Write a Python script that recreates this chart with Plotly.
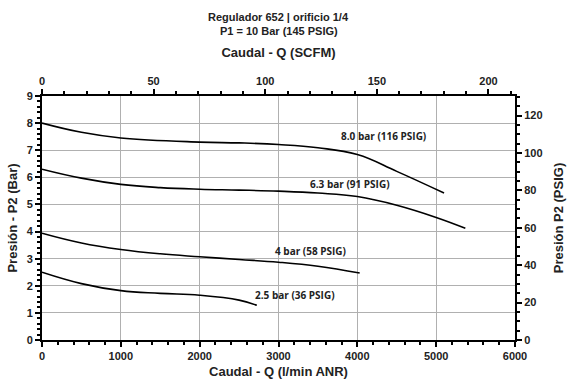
import plotly.graph_objects as go

q8 = [0, 500, 1000, 2000, 2500, 3000, 3500, 4000, 4500, 5100]
p8 = [8.0, 7.66, 7.45, 7.30, 7.27, 7.21, 7.09, 6.84, 6.22, 5.42]
q63 = [0, 500, 1000, 1500, 2000, 2500, 3000, 3500, 4000, 4500, 5000, 5370]
p63 = [6.3, 5.97, 5.74, 5.62, 5.56, 5.53, 5.49, 5.42, 5.29, 4.97, 4.52, 4.12]
q4 = [0, 500, 1000, 1500, 2000, 2500, 3000, 3500, 4030]
p4 = [3.94, 3.58, 3.34, 3.18, 3.07, 2.97, 2.87, 2.72, 2.47]
q25 = [0, 500, 1000, 1500, 2000, 2500, 2725]
p25 = [2.5, 2.08, 1.82, 1.72, 1.65, 1.47, 1.28]

labels = ["8.0 bar (116 PSIG)", "6.3 bar (91 PSIG)", "4 bar (58 PSIG)", "2.5 bar (36 PSIG)"]
label_x = [4330, 3913, 3400, 3210]
label_y = [7.53, 5.75, 3.28, 1.66]

BAR_TO_PSI = 14.5
LPM_PER_SCFM = 28.3168
XMAX = 6000
YMAX = 9

FONT = "Liberation Sans, Arial"

fig = go.Figure()
for q, p in [(q8, p8), (q63, p63), (q4, p4), (q25, p25)]:
    fig.add_trace(go.Scatter(x=q, y=p, mode="lines",
                             line=dict(color="black", width=1.6, shape="spline", smoothing=1.2),
                             showlegend=False, hoverinfo="skip"))

# invisible traces so the secondary (top / right) axes are drawn
fig.add_trace(go.Scatter(x=[0], y=[0], xaxis="x2", yaxis="y", mode="markers",
                         marker=dict(opacity=0), showlegend=False, hoverinfo="skip"))
fig.add_trace(go.Scatter(x=[0], y=[0], xaxis="x", yaxis="y2", mode="markers",
                         marker=dict(opacity=0), showlegend=False, hoverinfo="skip"))

for t, x, y in zip(labels, label_x, label_y):
    fig.add_annotation(x=x, y=y, text="<b>" + t + "</b>", showarrow=False, xref="x", yref="y",
                       font=dict(family="Open Sans", size=10, color="#222"))

def py(pix):
    return (340 - pix) / 244.0

fig.add_annotation(x=0.5, y=py(17), xref="paper", yref="paper", text="<b>Regulador 652 | orificio 1/4</b>",
                   showarrow=False, yanchor="middle", font=dict(family=FONT, size=11, color="#222"))
fig.add_annotation(x=0.5, y=py(31), xref="paper", yref="paper", text="<b>P1 = 10 Bar (145 PSIG)</b>",
                   showarrow=False, yanchor="middle", font=dict(family=FONT, size=11, color="#222"))

tickfont = dict(family=FONT, size=11, color="#222", weight="bold")
titlefont = dict(family=FONT, size=13, color="#222")
GRID = "#b0b0b0"

fig.update_layout(
    width=569, height=387,
    margin=dict(l=42, r=54, t=96, b=47, autoexpand=False),
    paper_bgcolor="white", plot_bgcolor="rgba(0,0,0,0)",
    xaxis=dict(range=[0, XMAX], dtick=1000, showgrid=True, gridcolor=GRID, gridwidth=1, automargin=False,
               showline=True, linecolor="black", linewidth=2, ticks="outside", ticklen=5, tickwidth=1.5,
               tickcolor="black", minor=dict(dtick=200, ticks="outside", ticklen=3, tickcolor="black", showgrid=False),
               tickfont=tickfont, title=dict(text="<b>Caudal - Q (l/min ANR)</b>", font=titlefont, standoff=6),
               zeroline=False, tickformat="d"),
    xaxis2=dict(range=[0, XMAX / LPM_PER_SCFM], dtick=50, overlaying="x", side="top", anchor="y",
                showgrid=False, showline=True, linecolor="black", linewidth=2, ticks="outside", ticklen=5,
                tickwidth=1.5, tickcolor="black", automargin=False,
                minor=dict(dtick=10, ticks="outside", ticklen=3, tickcolor="black", showgrid=False),
                tickfont=tickfont, title=dict(text="<b>Caudal - Q (SCFM)</b>", font=titlefont, standoff=14),
                zeroline=False),
    yaxis=dict(range=[0, YMAX], dtick=1, showgrid=True, gridcolor=GRID, gridwidth=1, automargin=False,
               showline=True, linecolor="black", linewidth=2, ticks="outside", ticklen=5, tickwidth=1.5,
               tickcolor="black", minor=dict(dtick=0.2, ticks="outside", ticklen=3, tickcolor="black", showgrid=False),
               tickfont=tickfont, title=dict(text="<b>Presión - P2 (Bar)</b>", font=titlefont, standoff=6),
               zeroline=False),
    yaxis2=dict(range=[0, YMAX * BAR_TO_PSI], dtick=20, overlaying="y", side="right", anchor="x",
                showgrid=False, showline=True, linecolor="black", linewidth=2, ticks="outside", ticklen=5,
                tickwidth=1.5, tickcolor="black", automargin=False,
                minor=dict(dtick=5, ticks="outside", ticklen=3, tickcolor="black", showgrid=False),
                tickfont=tickfont, title=dict(text="<b>Presión P2 (PSIG)</b>", font=titlefont, standoff=12),
                zeroline=False),
)

fig.write_html("out.html")
